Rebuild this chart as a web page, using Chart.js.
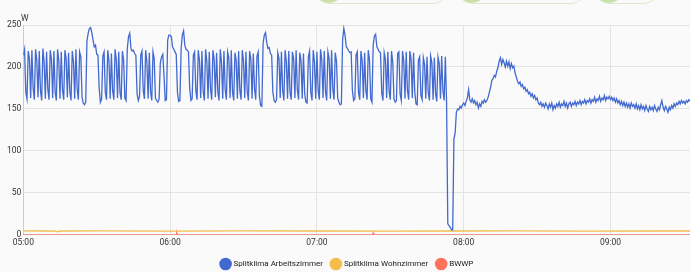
<!DOCTYPE html>
<html>
<head>
<meta charset="utf-8">
<script src="https://cdn.jsdelivr.net/npm/chart.js@4/dist/chart.umd.min.js"></script>
<style>
  html, body { margin: 0; padding: 0; background: #fafafa; overflow: hidden; }
  #wrap { position: relative; width: 690px; height: 272px; }
  .chip { position: absolute; top: -30px; height: 32px; border: 1px solid #dde9cc; border-radius: 17px; background: #fafafa; }
  .chip .dot { position: absolute; left: 1px; top: 4px; width: 28px; height: 28px; border-radius: 50%; background: #c9e0aa; }
  #unit { position: absolute; left: 21px; top: 13px; font: 8.5px Roboto, sans-serif; color: #333; }
</style>
</head>
<body>
<div id="wrap">
  <div class="chip" style="left:313px;width:134px"><div class="dot"></div></div>
  <div class="chip" style="left:456px;width:129px"><div class="dot"></div></div>
  <div class="chip" style="left:593px;width:65px"><div class="dot"></div></div>
  <div id="unit">W</div>
  <canvas id="chart" width="690" height="272"></canvas>
</div>
<script>
// minutes after 05:00, one value every 30 s
const stepMin = 0.5;
const arbeitszimmer = [
  214, 221, 170, 162, 219, 210, 163, 220, 175, 161, 221, 208, 164, 219, 172, 160, 222, 206, 162, 218,
  174, 161, 220, 209, 163, 219, 170, 160, 221, 207, 162, 218, 173, 161, 220, 210, 164, 217, 171, 160,
  219, 206, 162, 221, 174, 161, 218, 212, 164, 157, 155, 158, 231, 240, 246, 247, 241, 232, 224, 226,
  215, 214, 175, 158, 162, 213, 218, 170, 161, 220, 207, 162, 216, 172, 161, 221, 209, 163, 218, 170,
  161, 219, 208, 163, 160, 222, 236, 240, 222, 219, 220, 216, 214, 168, 160, 165, 214, 219, 172, 162,
  220, 206, 162, 217, 170, 160, 218, 210, 163, 160, 158, 162, 205, 212, 215, 190, 160, 161, 232, 238,
  238, 236, 224, 221, 218, 215, 170, 159, 160, 222, 238, 243, 226, 221, 220, 218, 175, 160, 162, 214,
  218, 172, 161, 220, 208, 163, 219, 171, 160, 221, 207, 162, 218, 174, 161, 220, 209, 164, 217, 170,
  160, 221, 206, 162, 219, 173, 161, 218, 211, 163, 220, 170, 160, 217, 208, 162, 219, 172, 161, 220,
  207, 163, 218, 171, 160, 219, 210, 162, 216, 174, 161, 213, 218, 165, 154, 153, 228, 238, 241, 229,
  222, 223, 216, 214, 170, 160, 158, 161, 217, 210, 163, 218, 172, 160, 220, 207, 162, 219, 170, 161,
  218, 209, 163, 220, 173, 161, 217, 208, 162, 216, 168, 158, 157, 212, 219, 170, 160, 220, 206, 162,
  218, 172, 161, 221, 208, 163, 219, 171, 160, 218, 210, 162, 220, 174, 161, 217, 207, 163, 158, 155,
  156, 232, 246, 238, 224, 222, 219, 217, 218, 172, 160, 162, 214, 218, 170, 161, 219, 207, 163, 217,
  172, 161, 220, 208, 162, 158, 226, 237, 239, 224, 221, 218, 217, 169, 160, 217, 209, 163, 218, 171,
  161, 219, 206, 162, 158, 160, 216, 218, 168, 160, 219, 207, 162, 218, 172, 161, 219, 209, 163, 217,
  170, 156, 155, 208, 212, 166, 161, 211, 203, 162, 212, 170, 160, 213, 205, 161, 211, 168, 159, 212,
  204, 162, 213, 172, 160, 212, 158, 13, 11, 9, 6, 6, 114, 121, 146, 150, 149, 153, 151, 155,
  157, 154, 159, 163, 173, 161, 158, 162, 157, 160, 155, 158, 151, 156, 153, 159, 157, 161, 158, 160,
  164, 170, 176, 184, 186, 190, 188, 195, 199, 207, 211, 203, 209, 205, 200, 207, 201, 206, 198, 204,
  199, 201, 193, 188, 183, 180, 182, 177, 179, 174, 176, 171, 173, 168, 170, 165, 168, 163, 166, 161,
  163, 157, 155, 158, 153, 156, 152, 157, 154, 150, 156, 152, 157, 149, 154, 151, 156, 153, 158, 152,
  156, 154, 159, 153, 157, 151, 156, 158, 153, 157, 155, 159, 154, 158, 156, 160, 155, 159, 157, 161,
  156, 160, 158, 162, 157, 161, 159, 164, 158, 162, 160, 165, 159, 163, 161, 166, 160, 164, 162, 165,
  161, 164, 160, 163, 158, 162, 157, 160, 155, 159, 154, 158, 153, 157, 152, 156, 151, 157, 153, 155,
  151, 156, 150, 154, 149, 155, 150, 153, 148, 154, 150, 147, 153, 149, 152, 148, 154, 150, 147, 152,
  149, 155, 160, 152, 148, 153, 150, 146, 152, 149, 154, 151, 156, 153, 157, 155, 159, 156, 160, 157,
  159, 156, 160, 158, 161, 159
];

const wohnzimmerTimes = [0, 10, 13, 14, 15, 30, 60, 90, 120, 150, 175, 200, 230, 260, 272.5];
const wohnzimmerValues = [4.6, 4.5, 4.4, 3.6, 4.5, 4.7, 4.4, 4.6, 4.5, 4.4, 4.5, 4.6, 4.4, 4.5, 4.5];

const bwwpTimes = [0, 62.5, 62.7, 62.9, 142.8, 143, 143.2, 272.5];
const bwwpValues = [0, 0, 2, 0, 0, 2, 0, 0];

const xTicks = ['05:00', '06:00', '07:00', '08:00', '09:00'];

function toPoints(times, values) {
  return values.map((v, i) => ({ x: times[i], y: v }));
}

const arbeitsPoints = arbeitszimmer.map((v, i) => ({ x: i * stepMin, y: v }));

function makeSet(label, data, color) {
  return {
    label,
    data,
    borderColor: color,
    backgroundColor: color,
    borderWidth: 1.3,
    pointRadius: 0,
    tension: 0,
    fill: false
  };
}

const tickFont = { family: 'Roboto', size: 8.5 };

new Chart(document.getElementById('chart').getContext('2d'), {
  type: 'line',
  data: {
    datasets: [
      makeSet('Splitklima Arbeitszimmer', arbeitsPoints, '#4269d0'),
      makeSet('Splitklima Wohnzimmer', toPoints(wohnzimmerTimes, wohnzimmerValues), '#f4bd4a'),
      makeSet('BWWP', toPoints(bwwpTimes, bwwpValues), '#ff725c')
    ]
  },
  options: {
    responsive: false,
    animation: false,
    layout: { padding: { top: 25, left: 5, right: 0, bottom: -6 } },
    plugins: {
      tooltip: { enabled: false },
      legend: {
        position: 'bottom',
        labels: {
          usePointStyle: true,
          pointStyle: 'circle',
          boxWidth: 10,
          boxHeight: 10,
          padding: 9,
          color: '#212121',
          font: { family: 'Roboto', size: 8 }
        }
      }
    },
    scales: {
      x: {
        type: 'linear',
        min: 0,
        max: 272.5,
        border: { display: true, color: '#cccccc' },
        grid: { color: '#e3e3e3', drawTicks: false },
        ticks: {
          stepSize: 60,
          includeBounds: false,
          maxRotation: 0,
          padding: 3,
          color: '#333',
          font: tickFont,
          callback: v => xTicks[Math.round(v / 60)] || ''
        }
      },
      y: {
        min: 0,
        max: 250,
        border: { display: true, color: '#cccccc' },
        grid: { color: '#e3e3e3', drawTicks: false },
        ticks: {
          stepSize: 50,
          padding: 2,
          color: '#333',
          font: tickFont
        }
      }
    }
  }
});
</script>
</body>
</html>
